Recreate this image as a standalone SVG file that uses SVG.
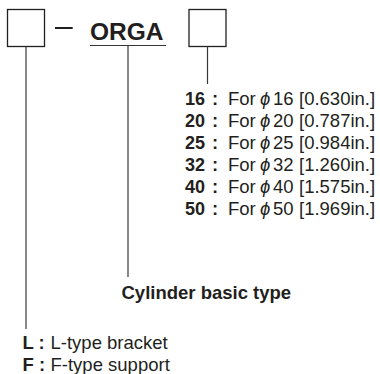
<svg xmlns="http://www.w3.org/2000/svg" width="380" height="374" viewBox="0 0 380 374">
<style>
.box{fill:none;stroke:#231f20;stroke-width:1.3}
.ln{stroke:#3a3637;stroke-width:1.2;fill:none}
.t{font-family:"Liberation Sans",Arial,sans-serif;fill:#231f20}
.b{font-weight:bold}
.r{font-size:18.5px}
.n{font-size:18px}
.phi{font-style:italic}
</style>
<rect width="380" height="374" fill="#fff"/>
<g id="box-left"><rect class="box" x="7.5" y="9.5" width="37" height="37"/></g>
<g id="dash"><line x1="55" y1="28" x2="72.7" y2="28" stroke="#231f20" stroke-width="2"/></g>
<g id="orga"><text class="t b" x="90" y="39.5" font-size="24.5">ORGA</text><line class="ln" x1="90" y1="45.5" x2="166" y2="45.5"/></g>
<g id="box-right"><rect class="box" x="189" y="9.5" width="37" height="37"/></g>
<g id="connectors">
<line class="ln" x1="26" y1="46.5" x2="26" y2="329"/>
<line class="ln" x1="128" y1="45.5" x2="128" y2="277"/>
<line class="ln" x1="207.5" y1="46.5" x2="207.5" y2="84"/>
</g>
<g id="bore-list" class="t r">
<text x="185" y="105"><tspan class="b n">16</tspan><tspan class="b" x="212">:</tspan><tspan x="228">For</tspan><tspan class="phi" x="260">ϕ</tspan><tspan x="273">16</tspan><tspan x="299">[0.630in.]</tspan></text>
<text x="185" y="127"><tspan class="b n">20</tspan><tspan class="b" x="212">:</tspan><tspan x="228">For</tspan><tspan class="phi" x="260">ϕ</tspan><tspan x="273">20</tspan><tspan x="299">[0.787in.]</tspan></text>
<text x="185" y="149"><tspan class="b n">25</tspan><tspan class="b" x="212">:</tspan><tspan x="228">For</tspan><tspan class="phi" x="260">ϕ</tspan><tspan x="273">25</tspan><tspan x="299">[0.984in.]</tspan></text>
<text x="185" y="171"><tspan class="b n">32</tspan><tspan class="b" x="212">:</tspan><tspan x="228">For</tspan><tspan class="phi" x="260">ϕ</tspan><tspan x="273">32</tspan><tspan x="299">[1.260in.]</tspan></text>
<text x="185" y="193"><tspan class="b n">40</tspan><tspan class="b" x="212">:</tspan><tspan x="228">For</tspan><tspan class="phi" x="260">ϕ</tspan><tspan x="273">40</tspan><tspan x="299">[1.575in.]</tspan></text>
<text x="185" y="215"><tspan class="b n">50</tspan><tspan class="b" x="212">:</tspan><tspan x="228">For</tspan><tspan class="phi" x="260">ϕ</tspan><tspan x="273">50</tspan><tspan x="299">[1.969in.]</tspan></text>
</g>
<g id="basic-type"><text class="t b" x="121.5" y="299" font-size="18.5">Cylinder basic type</text></g>
<g id="mounting" class="t r">
<text x="22.5" y="349"><tspan class="b">L :</tspan><tspan x="50.5">L-type bracket</tspan></text>
<text x="22.5" y="371"><tspan class="b">F :</tspan><tspan x="50.5">F-type support</tspan></text>
</g>
</svg>
